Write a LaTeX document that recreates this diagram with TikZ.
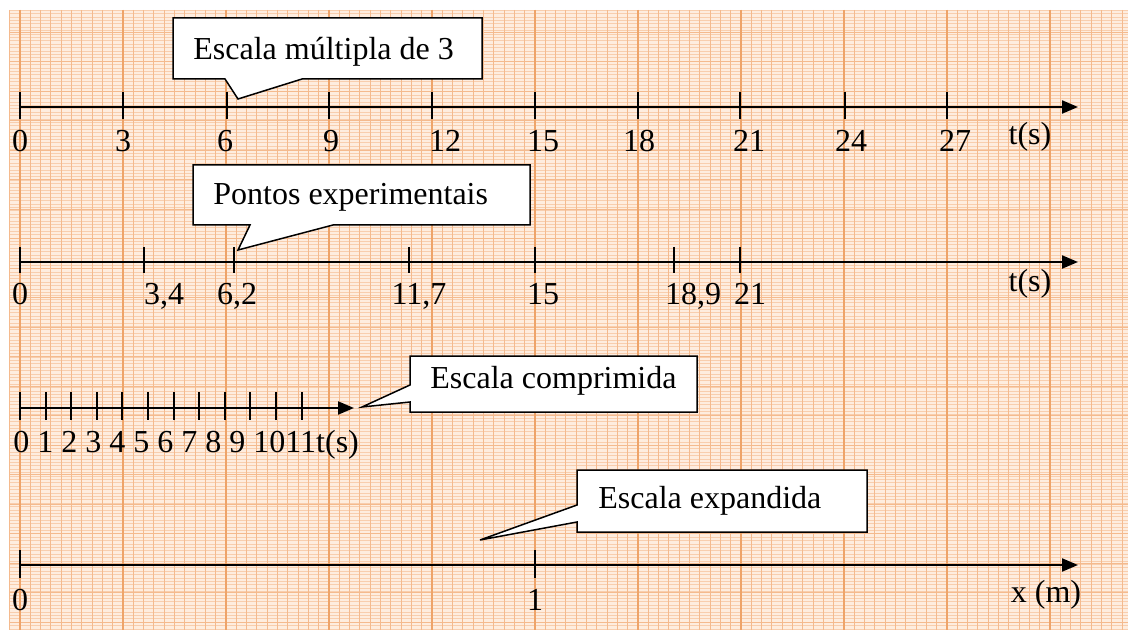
\documentclass[tikz,border=0pt]{standalone}
\usepackage{fontspec}
\setmainfont{Liberation Serif}
\usetikzlibrary{arrows.meta}
\definecolor{paper}{RGB}{254,237,223}
\definecolor{finegrid}{RGB}{248,206,174}
\definecolor{midgrid}{RGB}{244,186,142}
\definecolor{majgrid}{RGB}{238,164,106}

\begin{document}
\begin{tikzpicture}[x=0.5pt,y=-0.5pt,line join=miter]
    \tikzstyle{axis}=[line width=1pt,-{Triangle[length=8pt,width=6.5pt]}]
    \tikzstyle{tick}=[line width=1pt]
    \tikzstyle{lbl}=[inner sep=0pt,anchor=base,font=\fontsize{16}{19}\selectfont]
    \tikzstyle{balloon}=[draw=black,fill=white,line width=0.75pt]
    \tikzstyle{btext}=[inner sep=0pt,anchor=base west,font=\fontsize{16}{19}\selectfont]

    \useasboundingbox (0,0) rectangle (1128,630);

    % papel milimetrado
    \fill[paper] (10,10) rectangle (1128,630);
    \foreach \y in {10,13.4,...,630}
        \draw[finegrid,line width=0.25pt] (10,\y) -- (1128,\y);
    \foreach \y in {32,61.5,...,630}
        \draw[midgrid,line width=0.4pt] (10,\y) -- (1128,\y);
    \foreach \x in {9.7,20,...,1128}
        \draw[midgrid,line width=0.5pt] (\x,10) -- (\x,630);
    \foreach \x in {20,123,...,1128}
        \draw[majgrid,line width=0.9pt] (\x,10) -- (\x,630);

    % baloes
    \coordinate (p1) at (238,99);
    \draw[balloon] (173,18) -- (482,18) -- (482,79) -- (302,79) -- (p1) -- (225,79) -- (173,79) -- cycle;
    \node[btext] (esc1) at (193,60) {Escala múltipla de 3};

    \coordinate (p2) at (238,250);
    \draw[balloon] (193,165) -- (530,165) -- (530,225) -- (333,225) -- (p2) -- (250,225) -- (193,225) -- cycle;
    \node[btext] (esc2) at (213,205) {Pontos experimentais};

    \coordinate (p3) at (362,407);
    \draw[balloon] (410,356) -- (697,356) -- (697,412) -- (410,412) -- (410,402) -- (p3) -- (410,385) -- cycle;
    \node[btext] (esc3) at (430,388) {Escala comprimida};

    \coordinate (p4) at (480,540);
    \draw[balloon] (577,470) -- (867,470) -- (867,532) -- (577,532) -- (577,522) -- (p4) -- (577,505) -- cycle;
    \node[btext] (esc4) at (598,508) {Escala expandida};

    % eixo 1
    \coordinate (A1) at (20,107);
    \coordinate (B1) at (1078,107);
    \draw[axis] (A1) -- (B1);
    \foreach \x in {20,123,227,329,432,535,638,740,845,947}
        \draw[tick] (\x,92) -- (\x,119);
    \foreach \num/\x in {0/20,3/123,6/225,9/331,12/445,15/543,18/639,21/749,24/851,27/955}
        \node[lbl] (t1-\num) at (\x,152) {\num};
    \node[lbl] (u1) at (1030,145) {t(s)};

    % eixo 2
    \coordinate (A2) at (20,262);
    \coordinate (B2) at (1078,262);
    \draw[axis] (A2) -- (B2);
    \foreach \x in {20,144,234,409,535,674,740}
        \draw[tick] (\x,247) -- (\x,273);
    \foreach \n/\txt/\x in {a/0/20,{b/3,4/164},{c/6,2/237},{d/11,7/419},e/15/543,{f/18,9/693},g/21/750}
        \node[lbl] (t2-\n) at (\x,305) {\txt};
    \node[lbl] (u2) at (1030,292) {t(s)};

    % eixo 3
    \coordinate (A3) at (20,408);
    \coordinate (B3) at (354,408);
    \draw[axis] (A3) -- (B3);
    \foreach \i in {0,...,11}
        \draw[tick] ({20+25.6*\i},392) -- ({20+25.6*\i},420);
    \node[lbl,anchor=base west] (t3) at (13,452) {0 1 2 3 4 5 6 7 8 9 1011t(s)};

    % eixo 4
    \coordinate (A4) at (20,565);
    \coordinate (B4) at (1078,565);
    \draw[axis] (A4) -- (B4);
    \foreach \x in {20,535}
        \draw[tick] (\x,550) -- (\x,578);
    \node[lbl] (t4-0) at (20,610) {0};
    \node[lbl] (t4-1) at (535,610) {1};
    \node[lbl] (u4) at (1046,602) {x (m)};
\end{tikzpicture}
\end{document}
